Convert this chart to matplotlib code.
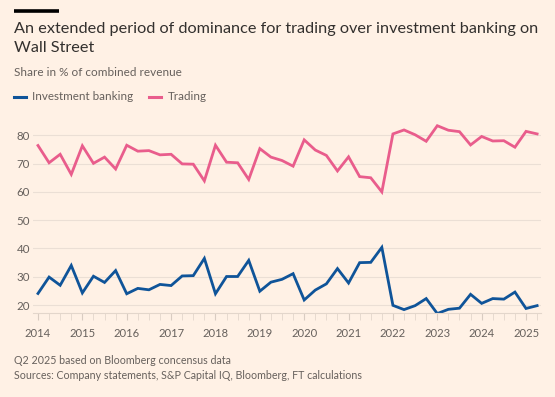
import matplotlib
matplotlib.use("Agg")
import matplotlib.pyplot as plt
from matplotlib.lines import Line2D
import numpy as np

# Quarterly data, Q1 2014 .. Q2 2025
years = list(range(2014, 2026))
investment_banking = [24.1, 29.9, 27.0, 34.0, 24.3, 30.2, 28.0, 32.2,
                      24.0, 25.9, 25.4, 27.3, 26.9, 30.3, 30.4, 36.5,
                      24.0, 30.1, 30.1, 35.8, 24.9, 28.1, 29.1, 31.1,
                      21.8, 25.3, 27.5, 32.9, 27.8, 35.0, 35.1, 40.4,
                      19.9, 18.4, 19.8, 22.3, 17.0, 18.5, 18.9, 23.8,
                      20.6, 22.3, 22.1, 24.6, 18.8, 19.8]
trading = [76.4, 70.3, 73.3, 66.2, 76.3, 70.1, 72.3, 68.1,
           76.5, 74.4, 74.6, 73.1, 73.3, 69.9, 69.8, 63.9,
           76.5, 70.5, 70.3, 64.4, 75.3, 72.3, 71.1, 69.1,
           78.4, 74.8, 72.9, 67.4, 72.4, 65.4, 65.0, 60.0,
           80.5, 81.9, 80.2, 77.9, 83.4, 81.8, 81.3, 76.6,
           79.6, 78.0, 78.1, 75.8, 81.4, 80.5]
yticks = [20, 30, 40, 50, 60, 70, 80]

W, H = 555, 397
BG = "#FFF1E5"
BLUE = "#0F5499"
PINK = "#E95D8C"
GREY = "#66605C"
FONT = "Lato"

fig = plt.figure(figsize=(W / 100, H / 100), dpi=100, facecolor=BG)

def px(x, y):
    return x / W, 1 - y / H

# top black bar
fig.add_artist(Line2D([14 / W, 59 / W], [1 - 11 / H, 1 - 11 / H], color="black", lw=2.6,
                      transform=fig.transFigure, solid_capstyle="butt"))

fig.text(*px(14, 29), "An extended period of dominance for trading over investment banking on",
         fontsize=11.7, family=FONT, color="#33302E", va="center", ha="left")
fig.text(*px(14, 48), "Wall Street", fontsize=11.7, family=FONT, color="#33302E", va="center", ha="left")
fig.text(*px(14, 73), "Share in % of combined revenue", fontsize=8.5, family=FONT, color=GREY,
         va="center", ha="left")

# legend
fig.add_artist(Line2D([14 / W, 26 / W], [1 - 97 / H] * 2, color=BLUE, lw=2.2, transform=fig.transFigure))
fig.text(*px(32, 97), "Investment banking", fontsize=8.4, family=FONT, color=GREY, va="center", ha="left")
fig.add_artist(Line2D([149 / W, 161 / W], [1 - 97 / H] * 2, color=PINK, lw=2.2, transform=fig.transFigure))
fig.text(*px(168, 97), "Trading", fontsize=8.4, family=FONT, color=GREY, va="center", ha="left")

left, right, top, bottom = 33, 541, 122.6, 313
ax = fig.add_axes([left / W, 1 - bottom / H, (right - left) / W, (bottom - top) / H])
ax.set_facecolor(BG)

x = np.arange(len(trading))
ax.plot(x, trading, color=PINK, lw=2.0, solid_joinstyle="miter")
ax.plot(x, investment_banking, color=BLUE, lw=2.0, solid_joinstyle="miter")

ax.set_xlim(-0.45, 45.35)
ax.set_ylim(17.2, 84.5)

ax.set_yticks(yticks)
ax.set_yticklabels([str(v) for v in yticks], family=FONT, fontsize=8.3, color=GREY)
ax.tick_params(axis="y", length=0, pad=2)
for v in yticks:
    ax.axhline(v, color="#EBDFD5", lw=0.8, zorder=0)

major = [(y - 2014) * 4 for y in years]
ax.set_xticks(major)
ax.set_xticklabels([str(y) for y in years], family=FONT, fontsize=8.1, color=GREY)
ax.set_xticks(np.arange(0, 46), minor=True)
ax.tick_params(axis="x", which="major", length=5, color="#D9CCC1", pad=6)
ax.tick_params(axis="x", which="minor", length=5, color="#E3D6CB")

for s in ["top", "right", "left"]:
    ax.spines[s].set_visible(False)
ax.spines["bottom"].set_color("#E3D6CB")
ax.spines["bottom"].set_linewidth(0.8)

fig.text(*px(14, 361), "Q2 2025 based on Bloomberg concensus data", fontsize=7.7, family=FONT,
         color=GREY, va="center", ha="left")
fig.text(*px(14, 375.5), "Sources: Company statements, S&P Capital IQ, Bloomberg, FT calculations",
         fontsize=7.7, family=FONT, color=GREY, va="center", ha="left")

fig.savefig("out.png", dpi=100, facecolor=BG)
